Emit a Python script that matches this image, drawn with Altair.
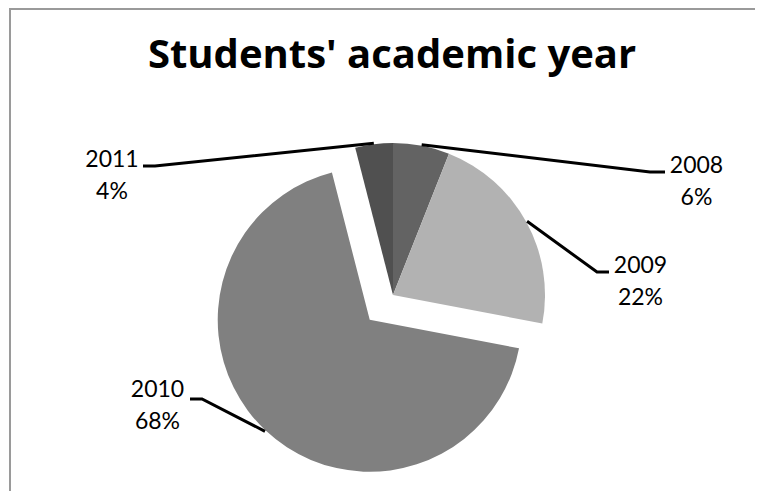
import math
import altair as alt
import pandas as pd

# ---- data ----
years = ["2008", "2009", "2010", "2011"]
shares = [6, 22, 68, 4]
pct_labels = ["6%", "22%", "68%", "4%"]
title_text = "Students' academic year"

# ---- styles ----
colors = ["#636363", "#b2b2b2", "#808080", "#505050"]
FONT = "Lato"
TITLE_FONT = "Open Sans"

# ---- layout (chart pixels) ----
W, H = 747, 483
CX, CY, R = 385, 287, 152
EXPLODE_YEAR, EXPLODE_DIST = "2010", 34
label_pos = {  # text centre x, first-line baseline y
    "2008": (688.5, 165),
    "2009": (632.5, 265),
    "2010": (149.5, 389),
    "2011": (104, 159),
}
leader_tail = {  # elbow, end next to label
    "2008": [(642, 164), (657, 164)],
    "2009": [(589, 264), (601, 264)],
    "2010": [(194, 391), (182, 391)],
    "2011": [(147, 158), (135, 158)],
}
border_pts = [(W, 1), (2, 1), (2, H)]  # top and left frame edges

pie_df = pd.DataFrame({"year": years, "share": shares, "order": list(range(len(years)))})

rows = []
cum = 0
for y, s in zip(years, shares):
    mid = 2 * math.pi * (cum + s / 2) / 100
    cum += s
    ex = EXPLODE_DIST if y == EXPLODE_YEAR else 0
    cx = CX + ex * math.sin(mid)
    cy = CY - ex * math.cos(mid)
    pts = [(cx + (R + 1) * math.sin(mid), cy - (R + 1) * math.cos(mid))] + leader_tail[y]
    for i, (px, py) in enumerate(pts):
        rows.append({"year": y, "i": i, "px": px, "py": py})
lines_df = pd.DataFrame(rows)
frame_df = pd.DataFrame({"i": range(len(border_pts)),
                         "px": [p[0] for p in border_pts],
                         "py": [p[1] for p in border_pts]})

lab_df = pd.DataFrame({
    "year": years,
    "txt": [f"{y}\n{p}" for y, p in zip(years, pct_labels)],
    "lx": [label_pos[y][0] for y in years],
    "ly": [label_pos[y][1] for y in years],
})

arcs = alt.Chart(pie_df).transform_window(
    cum="sum(share)", sort=[alt.SortField("order")]
).transform_calculate(
    t0="datum.cum - datum.share",
    mid="2*PI*(datum.cum - datum.share/2)/100",
    ex=f"datum.year == '{EXPLODE_YEAR}' ? {EXPLODE_DIST} : 0",
).transform_calculate(
    cx=f"{CX} + datum.ex*sin(datum.mid)",
    cy=f"{CY} - datum.ex*cos(datum.mid)",
).mark_arc(outerRadius=R).encode(
    theta=alt.Theta("t0:Q", scale=alt.Scale(domain=[0, 100], range=[0, 2 * math.pi])),
    theta2="cum:Q",
    x=alt.X("cx:Q", scale=None, axis=None),
    y=alt.Y("cy:Q", scale=None, axis=None),
    color=alt.Color("year:N", scale=alt.Scale(domain=years, range=colors), legend=None),
)

leaders = alt.Chart(lines_df).mark_line(color="black", strokeWidth=3, strokeJoin="miter").encode(
    x=alt.X("px:Q", scale=None, axis=None),
    y=alt.Y("py:Q", scale=None, axis=None),
    detail="year:N",
    order="i:Q",
)

labels = alt.Chart(lab_df).mark_text(
    lineBreak="\n", align="center", baseline="alphabetic",
    font=FONT, fontSize=23, lineHeight=32, color="black",
).encode(
    x=alt.X("lx:Q", scale=None, axis=None),
    y=alt.Y("ly:Q", scale=None, axis=None),
    text="txt:N",
)

title = alt.Chart(pd.DataFrame({"t": [title_text]})).mark_text(
    align="center", baseline="alphabetic", font=TITLE_FONT, fontSize=40,
    fontWeight="bold", color="black",
).encode(x=alt.value(384), y=alt.value(60), text="t:N")

frame = alt.Chart(frame_df).mark_line(color="#9a9a9a", strokeWidth=2, strokeJoin="miter").encode(
    x=alt.X("px:Q", scale=None, axis=None),
    y=alt.Y("py:Q", scale=None, axis=None),
    order="i:Q",
)

chart = alt.layer(arcs, leaders, labels, title, frame).properties(
    width=W, height=H, padding=0, autosize=alt.AutoSizeParams(type="none")
).configure_view(stroke="transparent", strokeWidth=0)

chart.save("out.html", embed_options={"renderer": "svg", "actions": False})
